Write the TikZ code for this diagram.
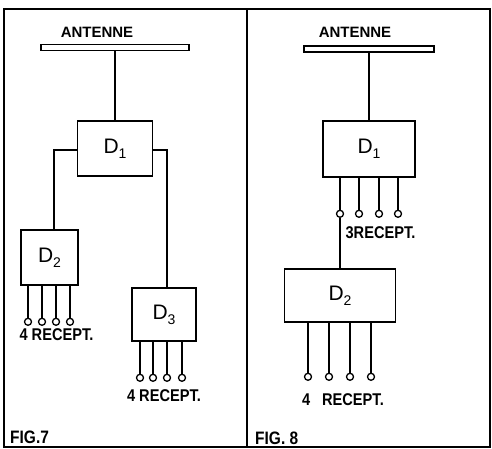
\documentclass[tikz,border=0pt]{standalone}
\usepackage{fontspec}
\setmainfont{Liberation Sans}
\newfontfamily\narrowfont{Liberation Sans}[FakeStretch=0.86]
\usetikzlibrary{positioning,calc}

% 分配器标号：D 加下标
\newcommand{\dlabel}[1]{D\raisebox{-5pt}{\fontsize{14}{14}\selectfont #1}}

\begin{document}
\begin{tikzpicture}[x=1pt, y=-1pt,
    panel/.style={draw, line width=1.8pt, inner sep=0pt},
    bar/.style={draw, line width=1.5pt, inner sep=0pt, minimum height=6pt},
    dbox/.style={draw, line width=1.6pt, inner sep=0pt, font=\fontsize{21}{21}\selectfont},
    term/.style={circle, draw, line width=1.3pt, inner sep=0pt, minimum size=7pt, fill=white},
    wire/.style={line width=1.6pt},
    title/.style={inner sep=0pt, font=\bfseries\fontsize{15}{15}\selectfont},
    recept/.style={inner sep=0pt, font=\narrowfont\bfseries\fontsize{17}{17}\selectfont},
    fig/.style={inner sep=0pt, anchor=west, font=\narrowfont\bfseries\fontsize{18}{18}\selectfont}
]
\useasboundingbox (0,0) rectangle (492,449);

% 两个图框
\node[panel, minimum width=243pt, minimum height=438pt] (panelL) at (125.5,228) {};
\node[panel, minimum width=243pt, minimum height=438pt] (panelR) at (368.5,228) {};

% ---------- FIG.7 ----------
\node[title] (antL) at (97,32) {ANTENNE};
\node[bar, minimum width=148pt] (barL) at (115,47.5) {};
\node[dbox, minimum width=75pt, minimum height=55pt] (d1L) at (115,148.5) {\dlabel{1}};
\node[dbox, minimum width=57pt, minimum height=55pt] (d2L) at (49.5,257.5) {\dlabel{2}};
\node[dbox, minimum width=64pt, minimum height=53pt] (d3L) at (164,314.5) {\dlabel{3}};

\draw[wire] (barL.south) -- (d1L.north);
\draw[wire] ([yshift=-1.5pt]d1L.west) -| ([xshift=4.5pt]d2L.north);
\draw[wire] ([yshift=-1.5pt]d1L.east) -| ([xshift=3pt]d3L.north);

% 接收机端子
\foreach \i/\dx in {1/-21.5,2/-7.5,3/6.5,4/20.5}{
  \node[term] (tL2\i) at ($(d2L.south)+(\dx,36)$) {};
  \draw[wire] (tL2\i.north) -- (tL2\i.north |- d2L.south);
}
\foreach \i/\dx in {1/-24,2/-11,3/3,4/18}{
  \node[term] (tL3\i) at ($(d3L.south)+(\dx,36)$) {};
  \draw[wire] (tL3\i.north) -- (tL3\i.north |- d3L.south);
}
\node[recept] (recL2) at (56.5,335) {4 RECEPT.};
\node[recept] (recL3) at (164,396) {4 RECEPT.};
\node[fig] (fig7) at (10,437) {FIG.7};

% ---------- FIG.8 ----------
\node[title] (antR) at (355,32) {ANTENNE};
\node[bar, minimum width=130pt] (barR) at (369,49) {};
\node[dbox, minimum width=92pt, minimum height=56pt] (d1R) at (369,149) {\dlabel{1}};
\node[dbox, minimum width=111pt, minimum height=53pt] (d2R) at (340,295.5) {\dlabel{2}};

\draw[wire] (barR.south) -- (d1R.north);

\foreach \i/\dx in {1/-29,2/-10,3/10,4/29}{
  \node[term] (tR1\i) at ($(d1R.south)+(\dx,36)$) {};
  \draw[wire] (tR1\i.north) -- (tR1\i.north |- d1R.south);
}
\draw[wire] (tR11.south) -- (d2R.north);
\foreach \i/\dx in {1/-32,2/-11,3/10,4/31}{
  \node[term] (tR2\i) at ($(d2R.south)+(\dx,54)$) {};
  \draw[wire] (tR2\i.north) -- (tR2\i.north |- d2R.south);
}
\node[recept] (recR1) at (380.5,233) {3RECEPT.};
\node[recept] (recR2) at (343,400) {4\hspace{0.7em}RECEPT.};
\node[fig] (fig8) at (255,438) {FIG. 8};

\end{tikzpicture}
\end{document}
